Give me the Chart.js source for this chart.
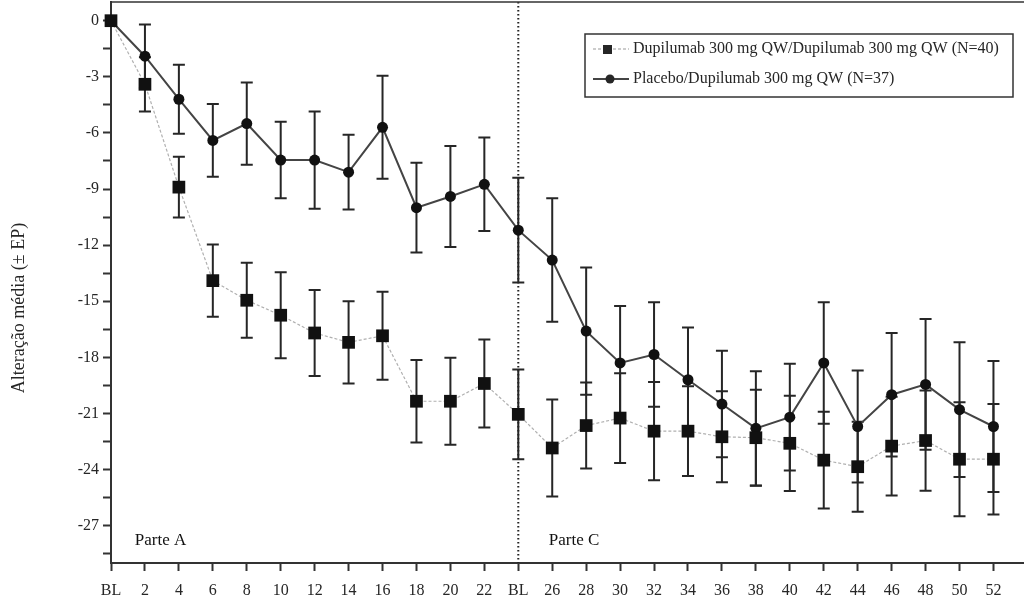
<!DOCTYPE html>
<html>
<head>
<meta charset="utf-8">
<script src="https://cdn.jsdelivr.net/npm/chart.js@4/dist/chart.umd.min.js"></script>
<style>
  html, body { margin: 0; padding: 0; background: #fff; }
  #c { display: block; }
</style>
</head>
<body>
<canvas id="c" width="1024" height="602"></canvas>
<script>
"use strict";

// semanas (BL = baseline da Parte A e da Parte C)
var xLabels = ['BL', '2', '4', '6', '8', '10', '12', '14', '16', '18', '20', '22',
               'BL', '26', '28', '30', '32', '34', '36', '38', '40', '42', '44', '46', '48', '50', '52'];

var yTicks = [-28.5, -27, -25.5, -24, -22.5, -21, -19.5, -18, -16.5, -15, -13.5, -12, -10.5,
              -9, -7.5, -6, -4.5, -3, -1.5, 0];

var dupLabel = 'Dupilumab 300 mg QW/Dupilumab 300 mg QW (N=40)';
var dupMean = [0, -3.4, -8.9, -13.9, -14.95, -15.75, -16.7, -17.2, -16.85, -20.35, -20.35, -19.4,
               -21.05, -22.85, -21.65, -21.25, -21.95, -21.95, -22.25, -22.3, -22.6, -23.5, -23.85,
               -22.75, -22.45, -23.45, -23.45];
var dupSE = [0, 1.45, 1.62, 1.93, 2.0, 2.3, 2.3, 2.2, 2.35, 2.2, 2.33, 2.35,
             2.4, 2.6, 2.3, 2.4, 2.63, 2.4, 2.43, 2.57, 2.55, 2.59, 2.41, 2.64, 2.68, 3.05, 2.95];

var pboLabel = 'Placebo/Dupilumab 300 mg QW (N=37)';
var pboMean = [0, -1.9, -4.2, -6.4, -5.5, -7.45, -7.45, -8.1, -5.7, -10.0, -9.4, -8.75,
               -11.2, -12.8, -16.6, -18.3, -17.85, -19.2, -20.5, -21.8, -21.2, -18.3, -21.7,
               -20.0, -19.45, -20.8, -21.7];
var pboSE = [0, 1.7, 1.85, 1.95, 2.2, 2.05, 2.6, 2.0, 2.75, 2.4, 2.7, 2.5,
             2.8, 3.3, 3.4, 3.05, 2.8, 2.8, 2.85, 3.05, 2.85, 3.25, 3.0, 3.3, 3.5, 3.6, 3.5];

var serif = '"Liberation Serif", "Times New Roman", serif';
var ink = '#262626';

function pts(arr) {
    return arr.map(function (v, i) { return { x: i, y: v }; });
}

var decor = {
    id: 'decor',
    beforeDatasetsDraw: function (chart) {
        var ctx = chart.ctx, a = chart.chartArea;
        var x = chart.scales.x, y = chart.scales.y;
        ctx.save();
        // linha pontilhada separando Parte A / Parte C
        var xs = x.getPixelForValue(12);
        ctx.strokeStyle = '#222';
        ctx.lineWidth = 2;
        ctx.setLineDash([1.5, 2.5]);
        ctx.beginPath();
        ctx.moveTo(xs, a.top);
        ctx.lineTo(xs, a.bottom);
        ctx.stroke();
        ctx.setLineDash([]);
        // barras de erro
        ctx.strokeStyle = ink;
        ctx.lineWidth = 2;
        [[dupMean, dupSE], [pboMean, pboSE]].forEach(function (s) {
            s[0].forEach(function (m, i) {
                if (!s[1][i]) return;
                var px = x.getPixelForValue(i);
                var t = y.getPixelForValue(m + s[1][i]);
                var b = y.getPixelForValue(m - s[1][i]);
                ctx.beginPath();
                ctx.moveTo(px, t); ctx.lineTo(px, b);
                ctx.moveTo(px - 6, t); ctx.lineTo(px + 6, t);
                ctx.moveTo(px - 6, b); ctx.lineTo(px + 6, b);
                ctx.stroke();
            });
        });
        ctx.restore();
    },
    afterDraw: function (chart) {
        var ctx = chart.ctx, a = chart.chartArea;
        var x = chart.scales.x, y = chart.scales.y;
        ctx.save();
        // borda superior
        ctx.strokeStyle = '#333';
        ctx.lineWidth = 1.5;
        ctx.beginPath();
        ctx.moveTo(a.left, a.top);
        ctx.lineTo(a.right, a.top);
        ctx.stroke();

        // legenda
        ctx.lineWidth = 1.5;
        ctx.strokeRect(585, 34, 428, 63);
        ctx.font = '16px ' + serif;
        ctx.fillStyle = ink;
        ctx.textBaseline = 'middle';
        ctx.textAlign = 'left';
        // linha 1
        ctx.strokeStyle = '#999';
        ctx.lineWidth = 1.2;
        ctx.setLineDash([3, 2]);
        ctx.beginPath(); ctx.moveTo(593, 49); ctx.lineTo(629, 49); ctx.stroke();
        ctx.setLineDash([]);
        ctx.fillRect(603, 45, 9, 9);
        ctx.fillText(dupLabel, 633, 49);
        // linha 2
        ctx.strokeStyle = '#444';
        ctx.lineWidth = 2;
        ctx.beginPath(); ctx.moveTo(593, 79); ctx.lineTo(629, 79); ctx.stroke();
        ctx.beginPath(); ctx.arc(610, 79, 4.5, 0, Math.PI * 2); ctx.fill();
        ctx.fillText(pboLabel, 633, 79);

        // Parte A / Parte C
        ctx.font = '17px ' + serif;
        ctx.fillStyle = '#111';
        ctx.fillText('Parte A', x.getPixelForValue(0.7), y.getPixelForValue(-27.8));
        ctx.fillText('Parte C', x.getPixelForValue(12.9), y.getPixelForValue(-27.8));

        // titulo eixo y
        ctx.font = '18px ' + serif;
        ctx.fillStyle = ink;
        ctx.translate(19, 308);
        ctx.rotate(-Math.PI / 2);
        ctx.textAlign = 'center';
        ctx.fillText('Alteração média (± EP)', 0, 0);
        ctx.restore();
    }
};

new Chart(document.getElementById('c'), {
    type: 'line',
    data: {
        datasets: [
            {
                label: dupLabel,
                data: pts(dupMean),
                borderColor: '#b0b0b0',
                borderWidth: 1.2,
                borderDash: [3, 2],
                pointStyle: 'rect',
                pointRadius: 9,
                pointBorderWidth: 0,
                pointBackgroundColor: '#111',
                pointBorderColor: '#111',
                tension: 0,
                clip: false
            },
            {
                label: pboLabel,
                data: pts(pboMean),
                borderColor: '#444',
                borderWidth: 2,
                pointStyle: 'circle',
                pointRadius: 5.5,
                pointBorderWidth: 0,
                pointBackgroundColor: '#111',
                pointBorderColor: '#111',
                tension: 0,
                clip: false
            }
        ]
    },
    options: {
        responsive: false,
        devicePixelRatio: 1,
        animation: false,
        layout: { autoPadding: false, padding: { top: 2, right: 0, left: 0, bottom: 0 } },
        plugins: {
            legend: { display: false },
            tooltip: { enabled: false }
        },
        scales: {
            x: {
                type: 'linear',
                min: 0,
                max: 26.9,
                afterFit: function (s) { s.height = 39; },
                afterBuildTicks: function (s) {
                    s.ticks = xLabels.map(function (l, i) { return { value: i }; });
                },
                ticks: {
                    autoSkip: false,
                    maxRotation: 0,
                    padding: 10,
                    color: ink,
                    font: { family: serif, size: 16 },
                    callback: function (v) { return xLabels[v]; }
                },
                grid: { drawOnChartArea: false, drawTicks: true, tickLength: 8, tickWidth: 2, tickColor: '#333' },
                border: { color: '#333', width: 2 }
            },
            y: {
                type: 'linear',
                min: -29,
                max: 1,
                afterFit: function (s) { s.width = 111; },
                afterBuildTicks: function (s) {
                    s.ticks = yTicks.map(function (v) { return { value: v }; });
                },
                ticks: {
                    padding: 0,
                    color: ink,
                    font: { family: serif, size: 16, lineHeight: 0.05 },
                    callback: function (v) { return v % 3 === 0 ? String(v) + ' ' : ''; }
                },
                grid: { drawOnChartArea: false, drawTicks: true, tickLength: 8, tickWidth: 2, tickColor: '#333' },
                border: { color: '#333', width: 2 }
            }
        }
    },
    plugins: [decor]
});
</script>
</body>
</html>
